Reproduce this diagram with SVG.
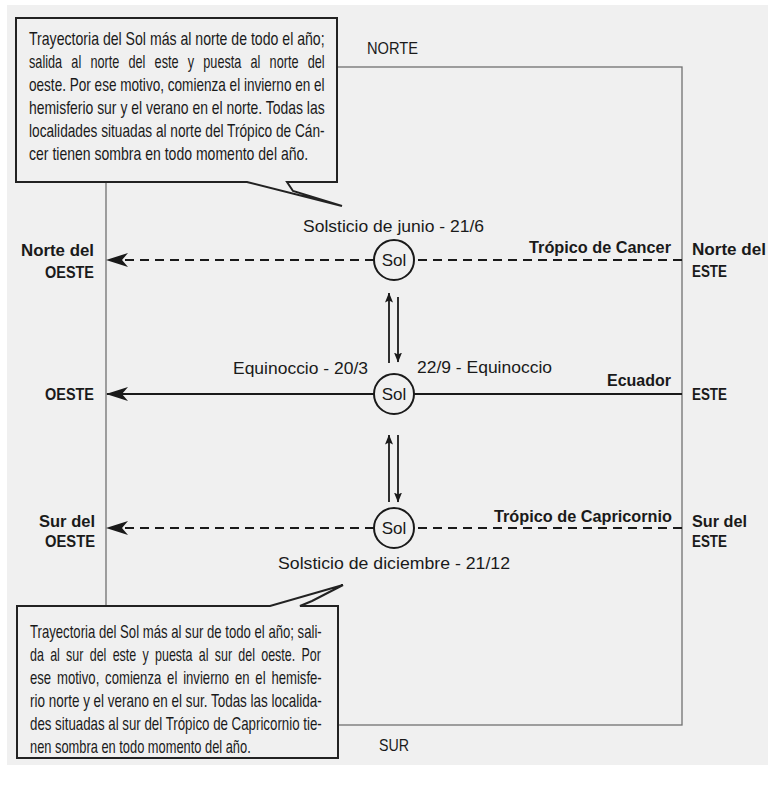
<svg xmlns="http://www.w3.org/2000/svg" width="768" height="786" viewBox="0 0 768 786">
<style>
  text { font-family: "Liberation Sans", Arial, sans-serif; fill: #1a1a1a; }
  .lbl { font-size: 17px; }
  .b { font-size: 16px; font-weight: bold; }
  .body { font-size: 18px; }
  .frame { fill: none; stroke: #707070; stroke-width: 1.3; }
  .box { fill: #f0f0f0; stroke: #222; stroke-width: 2; stroke-linejoin: miter; }
  .sun { fill: #f0f0f0; stroke: #1a1a1a; stroke-width: 2; }
  .path-dash { fill: none; stroke: #1a1a1a; stroke-width: 2; stroke-dasharray: 9 6; }
  .path-solid { fill: none; stroke: #1a1a1a; stroke-width: 2; }
  .move { fill: none; stroke: #1a1a1a; stroke-width: 1.8; }
</style>
<defs>
  <marker id="bigArrow" markerUnits="userSpaceOnUse" viewBox="0 0 22 14" markerWidth="22" markerHeight="14" refX="21" refY="7" orient="auto">
    <path d="M0,0 L22,7 L0,14 L6,7 Z" fill="#1a1a1a"/>
  </marker>
  <marker id="smallArrow" markerUnits="userSpaceOnUse" viewBox="0 0 10 8" markerWidth="10" markerHeight="8" refX="9.5" refY="4" orient="auto">
    <path d="M0,0 L10,4 L0,8 L2,4 Z" fill="#1a1a1a"/>
  </marker>
</defs>

<rect x="0" y="0" width="768" height="786" fill="#ffffff"/>
<rect x="7" y="5" width="761" height="760" fill="#f0f0f0"/>

<g id="frame">
  <rect class="frame" x="106" y="67" width="576" height="658"/>
  <text class="lbl" x="367" y="54" textLength="51" lengthAdjust="spacingAndGlyphs">NORTE</text>
  <text class="lbl" x="379" y="751" textLength="30" lengthAdjust="spacingAndGlyphs">SUR</text>
</g>

<g id="connectors">
  <line class="path-dash" x1="682" y1="260" x2="414" y2="260"/>
  <line class="path-dash" x1="374" y1="260" x2="107" y2="260" marker-end="url(#bigArrow)"/>
  <line class="path-solid" x1="682" y1="394" x2="414" y2="394"/>
  <line class="path-solid" x1="374" y1="394" x2="107" y2="394" marker-end="url(#bigArrow)"/>
  <line class="path-dash" x1="682" y1="528" x2="414" y2="528"/>
  <line class="path-dash" x1="374" y1="528" x2="107" y2="528" marker-end="url(#bigArrow)"/>
  <line class="move" x1="389" y1="363" x2="389" y2="293" marker-end="url(#smallArrow)"/>
  <line class="move" x1="398" y1="297" x2="398" y2="362" marker-end="url(#smallArrow)"/>
  <line class="move" x1="389" y1="502" x2="389" y2="435" marker-end="url(#smallArrow)"/>
  <line class="move" x1="398" y1="435" x2="398" y2="502" marker-end="url(#smallArrow)"/>
</g>

<g id="sol-junio">
  <circle class="sun" cx="394" cy="260" r="20"/>
  <text class="lbl" x="394" y="266" text-anchor="middle" font-size="16">Sol</text>
  <text class="lbl" x="303" y="232" textLength="181" lengthAdjust="spacingAndGlyphs">Solsticio de junio - 21/6</text>
</g>

<g id="sol-equinoccio">
  <circle class="sun" cx="394" cy="394" r="20"/>
  <text class="lbl" x="394" y="400" text-anchor="middle" font-size="16">Sol</text>
  <text class="lbl" x="233" y="374" textLength="135" lengthAdjust="spacingAndGlyphs">Equinoccio - 20/3</text>
  <text class="lbl" x="417" y="373" textLength="135" lengthAdjust="spacingAndGlyphs">22/9 - Equinoccio</text>
</g>

<g id="sol-diciembre">
  <circle class="sun" cx="394" cy="528" r="20"/>
  <text class="lbl" x="394" y="534" text-anchor="middle" font-size="16">Sol</text>
  <text class="lbl" x="278" y="569" textLength="232" lengthAdjust="spacingAndGlyphs">Solsticio de diciembre - 21/12</text>
</g>

<g id="labels-west">
  <text class="b" x="21" y="256" textLength="73" lengthAdjust="spacingAndGlyphs">Norte del</text>
  <text class="b" x="45" y="278" textLength="49" lengthAdjust="spacingAndGlyphs">OESTE</text>
  <text class="b" x="45" y="400" textLength="49" lengthAdjust="spacingAndGlyphs">OESTE</text>
  <text class="b" x="39" y="527" textLength="56" lengthAdjust="spacingAndGlyphs">Sur del</text>
  <text class="b" x="45" y="547" textLength="50" lengthAdjust="spacingAndGlyphs">OESTE</text>
</g>

<g id="labels-east">
  <text class="b" x="692" y="255" textLength="74" lengthAdjust="spacingAndGlyphs">Norte del</text>
  <text class="b" x="692" y="277" textLength="35" lengthAdjust="spacingAndGlyphs">ESTE</text>
  <text class="b" x="692" y="400" textLength="35" lengthAdjust="spacingAndGlyphs">ESTE</text>
  <text class="b" x="692" y="527" textLength="55" lengthAdjust="spacingAndGlyphs">Sur del</text>
  <text class="b" x="692" y="547" textLength="35" lengthAdjust="spacingAndGlyphs">ESTE</text>
</g>

<g id="labels-lines">
  <text class="b" x="529" y="253" textLength="142" lengthAdjust="spacingAndGlyphs">Trópico de Cancer</text>
  <text class="b" x="607" y="386" textLength="64" lengthAdjust="spacingAndGlyphs">Ecuador</text>
  <text class="b" x="494" y="522" textLength="178" lengthAdjust="spacingAndGlyphs">Trópico de Capricornio</text>
</g>

<g id="callout-norte">
  <path class="box" d="M16,18 H337 V182 H287 L293,191 L342,206 L247,182 H16 Z"/>
  <g transform="translate(29,0) scale(0.78,1)">
    <text class="body" x="0" y="45" textLength="379" lengthAdjust="spacingAndGlyphs">Trayectoria del Sol más al norte de todo el año;</text>
    <text class="body" x="0" y="68" textLength="379" lengthAdjust="spacingAndGlyphs" word-spacing="8">salida al norte del este y puesta al norte del</text>
    <text class="body" x="0" y="91" textLength="379" lengthAdjust="spacingAndGlyphs">oeste. Por ese motivo, comienza el invierno en el</text>
    <text class="body" x="0" y="114" textLength="379" lengthAdjust="spacingAndGlyphs">hemisferio sur y el verano en el norte. Todas las</text>
    <text class="body" x="0" y="137" textLength="379" lengthAdjust="spacingAndGlyphs">localidades situadas al norte del Trópico de Cán-</text>
    <text class="body" x="0" y="160" textLength="358" lengthAdjust="spacingAndGlyphs">cer tienen sombra en todo momento del año.</text>
  </g>
</g>

<g id="callout-sur">
  <path class="box" d="M17,606 H270 L343,585 L312,601 L300,606 H338 V758 H17 Z"/>
  <g transform="translate(30,0) scale(0.78,1)">
    <text class="body" x="0" y="638" textLength="374" lengthAdjust="spacingAndGlyphs">Trayectoria del Sol más al sur de todo el año; sali-</text>
    <text class="body" x="0" y="661" textLength="373" lengthAdjust="spacingAndGlyphs" word-spacing="4">da al sur del este y puesta al sur del oeste. Por</text>
    <text class="body" x="0" y="684" textLength="374" lengthAdjust="spacingAndGlyphs" word-spacing="3">ese motivo, comienza el invierno en el hemisfe-</text>
    <text class="body" x="0" y="707" textLength="374" lengthAdjust="spacingAndGlyphs">rio norte y el verano en el sur. Todas las localida-</text>
    <text class="body" x="0" y="730" textLength="374" lengthAdjust="spacingAndGlyphs">des situadas al sur del Trópico de Capricornio tie-</text>
    <text class="body" x="0" y="753" textLength="283" lengthAdjust="spacingAndGlyphs">nen sombra en todo momento del año.</text>
  </g>
</g>
</svg>
